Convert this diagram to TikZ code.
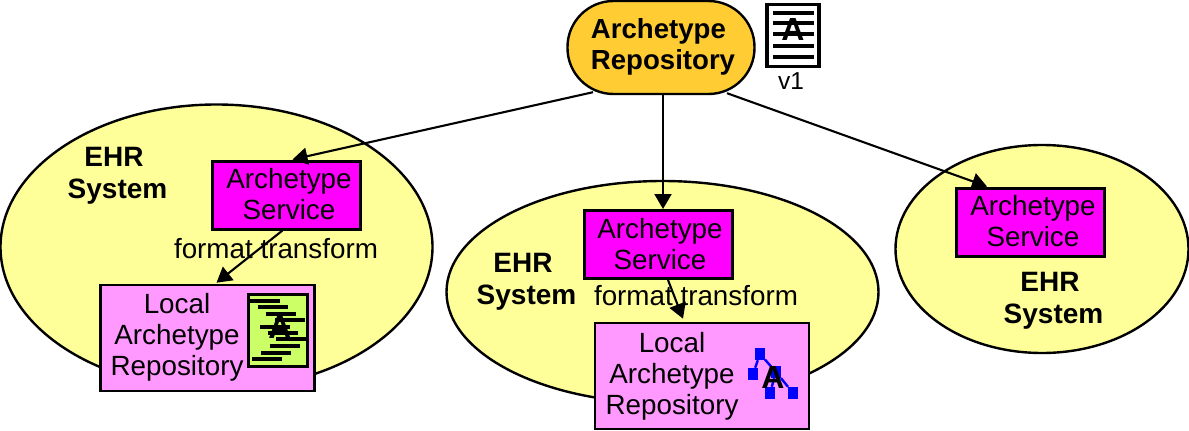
\documentclass[tikz,border=0pt]{standalone}
\usepackage{fontspec}
\setmainfont{Liberation Sans}
\usetikzlibrary{arrows.meta,shapes.geometric,calc}
\definecolor{sysyellow}{HTML}{FFFF99}
\definecolor{repoorange}{HTML}{FFCC33}
\definecolor{svcmag}{HTML}{FF00FF}
\definecolor{localpink}{HTML}{FF99FF}
\definecolor{docgreen}{HTML}{CCFF66}
\definecolor{treeblue}{HTML}{0000FF}
\tikzset{
  x=1pt,y=-1pt,
  ehr/.style={draw=black,line width=2.4pt,fill=sysyellow,ellipse,inner sep=0pt},
  svcbox/.style={draw=black,line width=3pt,fill=svcmag,inner sep=0pt,minimum width=148pt,minimum height=68pt},
  localbox/.style={draw=black,line width=2.6pt,fill=localpink,inner sep=0pt,minimum width=214pt,minimum height=106pt},
  txt/.style={font=\fontsize{27.8}{31}\selectfont,align=center,inner sep=0pt,text=black},
  bold/.style={font=\fontsize{27.6}{31}\selectfont\bfseries,align=left,inner sep=0pt},
  sysbold/.style={font=\fontsize{28}{32}\selectfont\bfseries,align=center,inner sep=0pt},
  arr/.style={line width=2.1pt,-{Triangle[length=15pt,width=17pt]}},
  docline/.style={line width=3.8pt},
  bigA/.style={font=\fontsize{32}{32}\selectfont\bfseries,inner sep=0pt},
  treenode/.style={fill=treeblue,inner sep=0pt,minimum width=9.5pt,minimum height=12pt},
  treeedge/.style={draw=treeblue,line width=2.4pt}
}
\begin{document}
\begin{tikzpicture}
\useasboundingbox (0,0) rectangle (1189,431);
% EHR ellipses
\node[ehr,minimum width=432pt,minimum height=285pt] (ehrA) at (216.5,247) {};
\node[ehr,minimum width=432pt,minimum height=222pt] (ehrB) at (662.5,292) {};
\node[ehr,minimum width=293pt,minimum height=208pt] (ehrC) at (1042,249) {};
% boxes
\node[fill=repoorange,draw=black,line width=2.4pt,rounded corners=46pt,minimum width=187pt,minimum height=93pt,inner sep=0pt] (repo) at (661,47.5) {};
\node[svcbox] (svcA) at (286.5,195) {};
\node[svcbox] (svcB) at (658,244.5) {};
\node[svcbox] (svcC) at (1030,222) {};
\node[localbox] (localA) at (207.5,338) {};
\node[localbox] (localB) at (702,376) {};
% connectors
\draw[arr] ([xshift=-68pt,yshift=3pt]repo.south) -- ([xshift=6pt]svcA.north);
\draw[arr] (repo.south) ++(2,0) -- ([xshift=5pt]svcB.north);
\draw[arr] ([xshift=66pt,yshift=2pt]repo.south) -- ([xshift=-43pt]svcC.north);
\draw[arr] ([xshift=-4pt]svcA.south) -- ([xshift=9pt,yshift=1pt]localA.north);
\draw[arr] ([xshift=10pt]svcB.south) -- ([xshift=-19pt,yshift=3pt]localB.north);
% labels
\node[bold] (repoText) at (663,47) {Archetype\\Repository};
\node[txt] (svcAText) at (289,194) {Archetype\\Service};
\node[txt] (svcBText) at (660,244) {Archetype\\Service};
\node[txt] (svcCText) at (1033,221) {Archetype\\Service};
\node[txt] (locAText) at (177,337) {Local\\Archetype\\Repository};
\node[txt] (locBText) at (672,376) {Local\\Archetype\\Repository};
\node[txt] (fmtA) at (276,249) {format transform};
\node[txt] (fmtB) at (696,296) {format transform};
\node[sysbold] (sysA) at (117.5,176) {EHR\hspace*{7pt}\\System};
\node[sysbold] (sysB) at (526.5,282) {EHR\hspace*{7pt}\\System};
\node[sysbold] (sysC) at (1053.5,301) {EHR\hspace*{7pt}\\System};
% standard document
\node[draw=black,line width=3.6pt,fill=white,minimum width=52pt,minimum height=62pt,inner sep=0pt] (docV) at (793,35.5) {};
\foreach \y in {13,23,34,46,57} \draw[docline] (773,\y) -- (814,\y);
\node[bigA] (docVA) at (793,29) {A};
\node[font=\fontsize{24.5}{24.5}\selectfont,inner sep=0pt] (docVlabel) at (791,81) {v1};
% local document
\node[draw=black,line width=2.4pt,fill=docgreen,minimum width=59pt,minimum height=72pt,inner sep=0pt] (docL) at (278,330.5) {};
\foreach \a/\b/\y in {250/280/301,258/288/307,266/296/314,275/305/320,260/290/327,268/298/333,276/306/339,270/300/346,261/291/353,252/282/359} \draw[docline] (\a,\y) -- (\b,\y);
\node[bigA] (docLA) at (280,327) {A};
% tree
\node[treenode] (t1) at (760,354) {};
\node[treenode] (t2) at (753,374) {};
\node[treenode] (t3) at (776,372) {};
\node[treenode] (t4) at (770,393) {};
\node[treenode] (t5) at (793,393) {};
\draw[treeedge] (t1) -- (t2) (t1) -- (t3) (t3) -- (t4) (t3) -- (t5);
\node[bigA] (treeA) at (773,377) {A};
\end{tikzpicture}
\end{document}
